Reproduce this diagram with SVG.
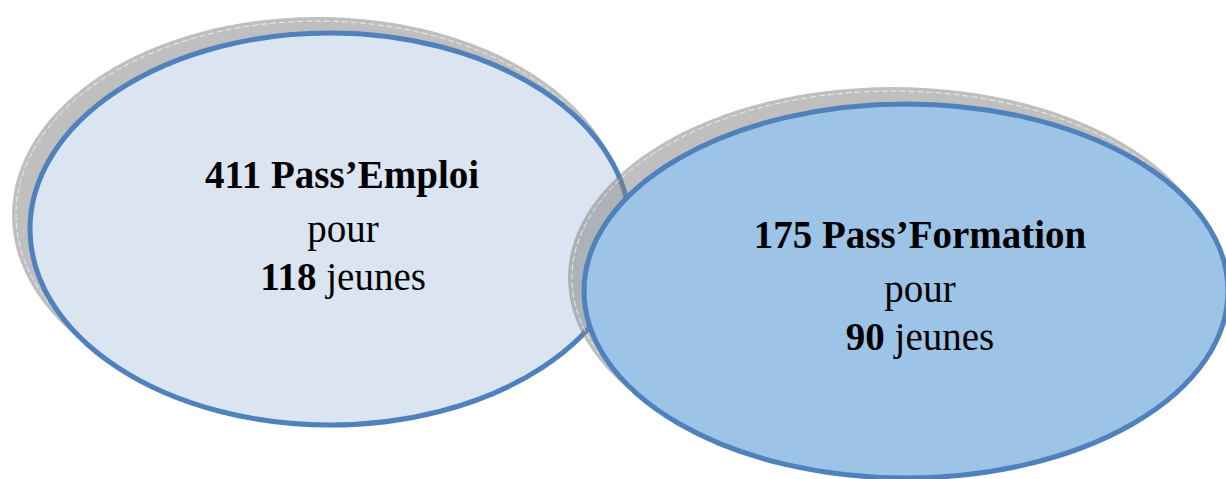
<svg xmlns="http://www.w3.org/2000/svg" width="1226" height="479" viewBox="0 0 1226 479">
<style>
.shadow{fill:#7f7f7f;fill-opacity:0.5;stroke:none}
.hl{fill:none;stroke:#ffffff;stroke-width:1;stroke-dasharray:6 3;stroke-opacity:0.7}
.main{stroke:#4f81bd;stroke-width:5}
.t{font-family:"Palatino Linotype","Book Antiqua","Liberation Serif",serif;font-size:39px;fill:#000;text-anchor:middle}
.b{font-weight:bold}
</style>
<rect width="1226" height="479" fill="#ffffff"/>
<g id="node-emploi">
<ellipse class="shadow" cx="318" cy="215" rx="306" ry="198"/>
<ellipse class="hl" cx="318" cy="215" rx="302" ry="194"/>
<ellipse class="main" cx="330" cy="229" rx="300" ry="196" fill="#dbe5f1"/>
<text class="t" x="342" y="188"><tspan class="b">411 Pass’Emploi</tspan></text>
<text class="t" x="343" y="242">pour</text>
<text class="t" x="343" y="290"><tspan class="b">118</tspan> jeunes</text>
</g>
<g id="node-formation">
<ellipse class="shadow" cx="893" cy="278" rx="325" ry="191"/>
<ellipse class="hl" cx="893" cy="278" rx="321" ry="187"/>
<ellipse class="main" cx="906" cy="291" rx="322" ry="187" fill="#9dc3e6"/>
<text class="t" x="920" y="248"><tspan class="b">175 Pass’Formation</tspan></text>
<text class="t" x="920" y="302">pour</text>
<text class="t" x="920" y="350"><tspan class="b">90</tspan> jeunes</text>
</g>
<g id="connectors"/>
</svg>
